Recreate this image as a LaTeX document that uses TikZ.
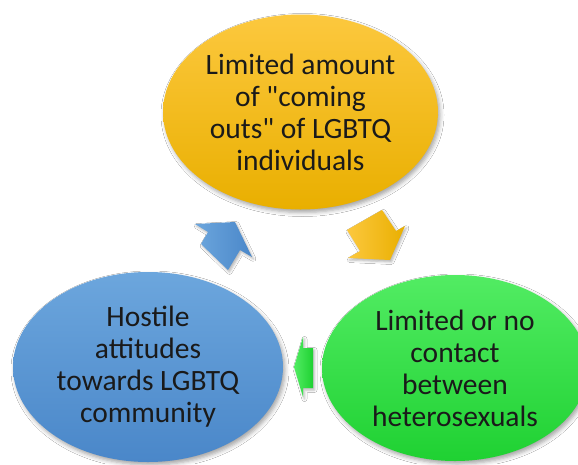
\documentclass[tikz,border=0pt]{standalone}
\usepackage{fontspec}
% keep straight quotes as typed
\setmainfont{Carlito}[Ligatures=TeXOff]
\usetikzlibrary{shapes.geometric,shadows.blur}

\definecolor{ytop}{HTML}{FCC83E}
\definecolor{ybot}{HTML}{E9AF00}
\definecolor{btop}{HTML}{6CA6DD}
\definecolor{bbot}{HTML}{4A87C9}
\definecolor{gtop}{HTML}{52EC63}
\definecolor{gbot}{HTML}{1FD132}
\definecolor{txt}{HTML}{1A1A1A}

\tikzset{
  bubble/.style={ellipse, inner sep=0pt, align=center, text=txt,
    font=\fontsize{29.5}{32}\selectfont,
    blur shadow={shadow xshift=2pt, shadow yshift=-3pt,
      shadow blur radius=4pt, shadow opacity=35}},
  blockarrow/.style={blur shadow={shadow xshift=1.5pt, shadow yshift=-2pt,
      shadow blur radius=2.5pt, shadow opacity=30}}
}

\begin{document}
\begin{tikzpicture}[x=1pt,y=-1pt]
\useasboundingbox (0,0) rectangle (578,464);
\clip (0,0) rectangle (578,464);
\fill[white] (0,0) rectangle (578,464);

% cycle arrows, lying beneath the ellipses
\path[blockarrow, left color=ytop, right color=ybot]
  (390,260) -- (348,258) -- (360,251) -- (347,230) -- (382,210)
  -- (396,231) -- (405,226) -- cycle;
\path[blockarrow, left color=gtop, right color=gbot]
  (294,367) -- (303,337) -- (303,348) -- (313,348) -- (313,388)
  -- (303,388) -- (303,397) -- cycle;
\path[blockarrow, left color=btop, right color=bbot]
  (235,222) -- (252,257) -- (240,250) -- (228,270) -- (201,244)
  -- (208,232) -- (195,224) -- cycle;

% the three stages
\node[bubble, minimum width=275pt, minimum height=195pt,
      top color=ytop, bottom color=ybot] (coming) at (300.5,112)
  {Limited amount\\of "coming\\outs" of LGBTQ\\individuals};
\node[bubble, minimum width=266pt, minimum height=186pt,
      top color=gtop, bottom color=gbot] (contact) at (455,368)
  {Limited or no\\contact\\between\\heterosexuals};
\node[bubble, minimum width=270pt, minimum height=190pt,
      top color=btop, bottom color=bbot] (hostile) at (148,367)
  {Hostile\\attitudes\\towards LGBTQ\\community};
\end{tikzpicture}
\end{document}
